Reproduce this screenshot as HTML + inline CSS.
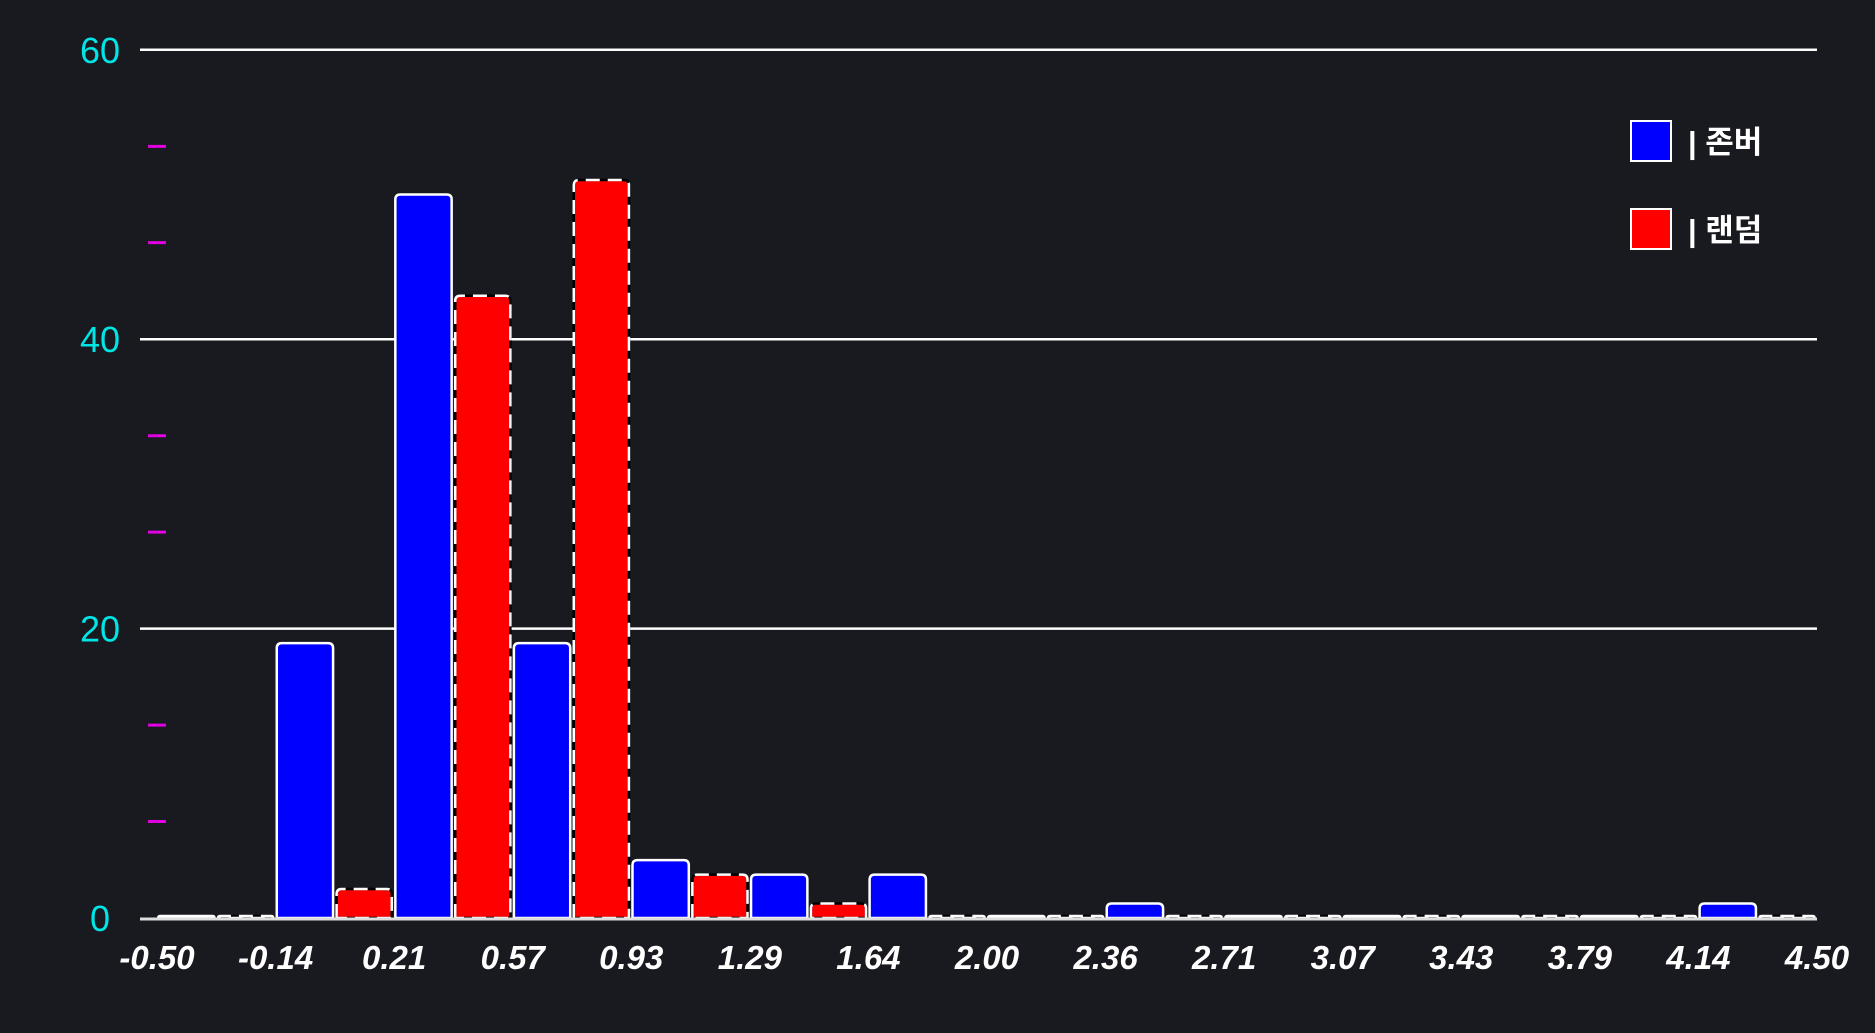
<!DOCTYPE html>
<html><head><meta charset="utf-8"><style>
html,body{margin:0;padding:0;background:#191920;}
svg{display:block}
</style></head><body>
<svg id="chart" width="1875" height="1033" viewBox="0 0 1875 1033" xmlns="http://www.w3.org/2000/svg">
<rect x="0" y="0" width="1875" height="1033" fill="#191920"/>
<g id="grid"></g><g id="bars"></g><g id="axes"></g>
<g>
 <rect x="1631" y="121" width="40" height="40" fill="#0000ff" stroke="#fff" stroke-width="2"/>
 <text x="1688" y="153" fill="#fff" font-size="31" font-weight="bold" font-family="'Liberation Sans','Noto Sans CJK KR',sans-serif">| 존버</text>
 <rect x="1631" y="209" width="40" height="40" fill="#ff0000" stroke="#fff" stroke-width="2"/>
 <text x="1688" y="241" fill="#fff" font-size="31" font-weight="bold" font-family="'Liberation Sans','Noto Sans CJK KR',sans-serif">| 랜덤</text>
</g>
</svg>
<script>
const xTicks = ["-0.50","-0.14","0.21","0.57","0.93","1.29","1.64","2.00","2.36","2.71","3.07","3.43","3.79","4.14","4.50"];
const blueValues = [0,19,50,19,4,3,3,0,1,0,0,0,0,1];
const redValues = [0,2,43,51,3,1,0,0,0,0,0,0,0,0];
const yTicks = [0,20,40,60];
const yMinor = [6.67,13.33,26.67,33.33,46.67,53.33];

const NS="http://www.w3.org/2000/svg";
const X0=157, X1=1817, Y0=918, PX_PER=14.47;
const nb=blueValues.length, bw=(X1-X0)/nb;
const xs=i=>X0+i*bw;
const ys=v=>Y0-v*PX_PER;
function mk(tag,attrs,parent){const e=document.createElementNS(NS,tag);for(const k in attrs)e.setAttribute(k,attrs[k]);parent.appendChild(e);return e;}
const grid=document.getElementById('grid'),bars=document.getElementById('bars'),axes=document.getElementById('axes');
yTicks.forEach((t,i)=>{
  if(t>0){const l=mk('line',{x1:140,x2:1817,y1:ys(t),y2:ys(t),stroke:'#fff','stroke-width':2.5},grid);
  
  }
  const tx=mk('text',{x:100,y:ys(t)+13,fill:'#00e5e5','font-size':36,'text-anchor':'middle','font-family':'Liberation Sans, sans-serif'},axes);
  tx.textContent=t;
  
  
});
yMinor.forEach(t=>{
  const m=mk('line',{x1:148,x2:166,y1:ys(t),y2:ys(t),stroke:'#e000e0','stroke-width':3},axes);
  
  
});
function barPath(x,w,h){const y=Y0-h,r=Math.min(5,h);return `M${x},${Y0} L${x},${y+r} Q${x},${y} ${x+r},${y} L${x+w-r},${y} Q${x+w},${y} ${x+w},${y+r} L${x+w},${Y0}`;}
blueValues.forEach((v,i)=>{
  const h=Math.max(v*PX_PER,2);
  const p=mk('path',{d:barPath(xs(i)+bw*0.01,bw*0.475,h)+' Z',fill:'#0000ff',stroke:'#fff','stroke-width':2.5},bars);
  
  
});
redValues.forEach((v,i)=>{
  const h=Math.max(v*PX_PER,2);
  const d=barPath(xs(i)+bw*0.515,bw*0.465,h)+' Z';
  const u=mk('path',{d:d,fill:'#ff0000',stroke:'#000','stroke-width':2.5},bars);
  
  
  const p=mk('path',{d:d,fill:'none',stroke:'#fff','stroke-width':2.5,'stroke-dasharray':'14 8'},bars);
  
  
});
const ax=mk('line',{x1:140,x2:1817,y1:Y0+1,y2:Y0+1,stroke:'#ddd','stroke-width':3},axes);


xTicks.forEach((t,i)=>{
  const tx=mk('text',{x:xs(i),y:969,fill:'#fff','font-size':33,'font-weight':'bold','font-style':'italic','text-anchor':'middle','font-family':'Liberation Sans, sans-serif'},axes);
  tx.textContent=t;
  
  
});
</script>
</body></html>
